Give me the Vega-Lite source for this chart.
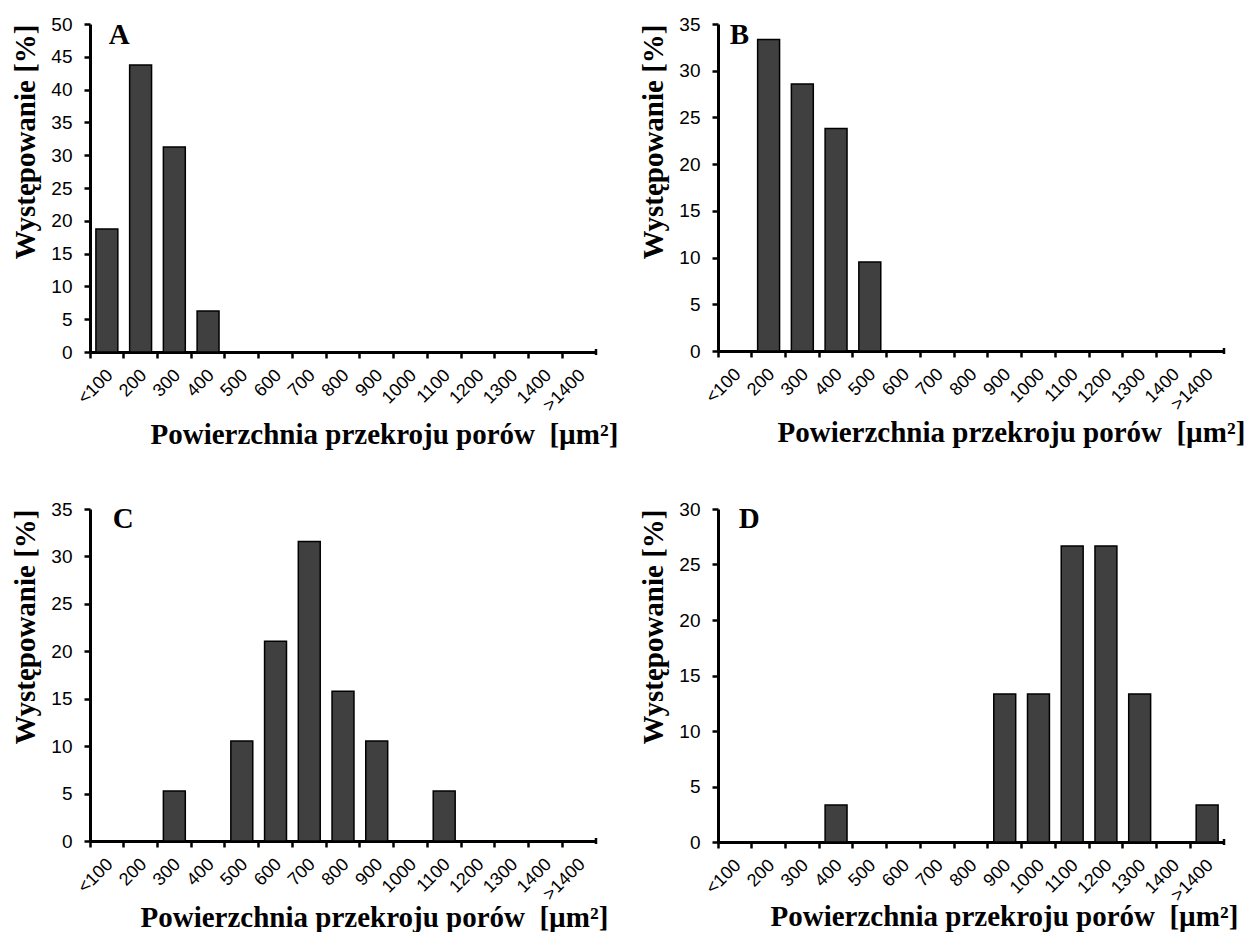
{
  "$schema": "https://vega.github.io/schema/vega-lite/v6.json",
  "background": "white",
  "padding": {"left": 11, "top": 15, "right": 0, "bottom": 0},
  "autosize": {"type": "pad"},
  "datasets": {
    "bars": [
      {"panel": "A", "bin": "<100", "pct": 18.75},
      {"panel": "A", "bin": "200", "pct": 43.75},
      {"panel": "A", "bin": "300", "pct": 31.25},
      {"panel": "A", "bin": "400", "pct": 6.25},
      {"panel": "B", "bin": "200", "pct": 33.33},
      {"panel": "B", "bin": "300", "pct": 28.57},
      {"panel": "B", "bin": "400", "pct": 23.81},
      {"panel": "B", "bin": "500", "pct": 9.52},
      {"panel": "C", "bin": "300", "pct": 5.26},
      {"panel": "C", "bin": "500", "pct": 10.53},
      {"panel": "C", "bin": "600", "pct": 21.05},
      {"panel": "C", "bin": "700", "pct": 31.58},
      {"panel": "C", "bin": "800", "pct": 15.79},
      {"panel": "C", "bin": "900", "pct": 10.53},
      {"panel": "C", "bin": "1100", "pct": 5.26},
      {"panel": "D", "bin": "400", "pct": 3.33},
      {"panel": "D", "bin": "900", "pct": 13.33},
      {"panel": "D", "bin": "1000", "pct": 13.33},
      {"panel": "D", "bin": "1100", "pct": 26.67},
      {"panel": "D", "bin": "1200", "pct": 26.67},
      {"panel": "D", "bin": "1300", "pct": 13.33},
      {"panel": "D", "bin": ">1400", "pct": 3.33}
    ]
  },
  "config": {
    "view": {"stroke": null},
    "axis": {
      "domainColor": "#000", "tickColor": "#000", "labelColor": "#000", "titleColor": "#000",
      "grid": false, "domainWidth": 3, "tickWidth": 2.5,
      "labelFont": "Liberation Sans", "titleFont": "Liberation Serif",
      "titleFontWeight": "bold", "titleFontSize": 29, "zindex": 1, "labelOverlap": false
    },
    "axisX": {
      "labelAngle": -45, "labelAlign": "right", "labelBaseline": "top",
      "labelFontSize": 18, "labelPadding": 8, "labelOffset": -3, "bandPosition": 0,
      "tickSize": 6,
      "titleAlign": "left", "titleBaseline": "alphabetic"
    },
    "axisY": {"labelFontSize": 19, "labelPadding": 12, "tickSize": 6, "titleAnchor": "end", "titlePadding": 10},
    "bar": {"fill": "#404040", "stroke": "#000", "strokeWidth": 1.5},
    "text": {"font": "Liberation Serif", "fontSize": 29, "fontWeight": "bold", "color": "#000", "align": "left", "baseline": "top"},
    "tick": {"color": "#000", "orient": "vertical", "size": 6, "thickness": 2.5, "yOffset": 3, "opacity": 1}
  },
  "columns": 2,
  "spacing": {"row": 51, "column": 21},
  "concat": [
    {
      "width": 506, "height": 328,
      "layer": [
        {
          "data": {"name": "bars"},
          "transform": [{"filter": "datum.panel === 'A'"}],
          "mark": {"type": "bar", "width": {"band": 0.65}},
          "encoding": {
            "x": {"field": "bin", "type": "nominal", "sort": null,
              "scale": {"domain": ["<100","200","300","400","500","600","700","800","900","1000","1100","1200","1300","1400",">1400"], "paddingInner": 0, "paddingOuter": 0},
              "axis": {"title": "Powierzchnia przekroju porów \u00a0[µm²]", "titleX": 60, "titleY": 91}},
            "y": {"field": "pct", "type": "quantitative",
              "scale": {"domain": [0, 50], "nice": false},
              "axis": {"title": "Występowanie [%]", "values": [0,5,10,15,20,25,30,35,40,45,50]}}
          }
        },
        {
          "data": {"values": [{"label": "A"}]},
          "mark": {"type": "text", "dx": 2, "dy": -3},
          "encoding": {
            "x": {"datum": "<100", "type": "nominal"},
            "y": {"datum": 50, "type": "quantitative", "axis": {"values": [0,5,10,15,20,25,30,35,40,45,50]}},
            "text": {"field": "label"}
          }
        },
        {
          "data": {"values": [{"label": "A"}]},
          "mark": {"type": "tick"},
          "encoding": {
            "x": {"datum": ">1400", "type": "nominal", "bandPosition": 1},
            "y": {"datum": 0, "type": "quantitative", "axis": {"values": [0,5,10,15,20,25,30,35,40,45,50]}}
          }
        }
      ]
    },
    {
      "width": 506, "height": 327,
      "layer": [
        {
          "data": {"name": "bars"},
          "transform": [{"filter": "datum.panel === 'B'"}],
          "mark": {"type": "bar", "width": {"band": 0.65}},
          "encoding": {
            "x": {"field": "bin", "type": "nominal", "sort": null,
              "scale": {"domain": ["<100","200","300","400","500","600","700","800","900","1000","1100","1200","1300","1400",">1400"], "paddingInner": 0, "paddingOuter": 0},
              "axis": {"title": "Powierzchnia przekroju porów \u00a0[µm²]", "titleX": 59, "titleY": 90}},
            "y": {"field": "pct", "type": "quantitative",
              "scale": {"domain": [0, 35], "nice": false},
              "axis": {"title": "Występowanie [%]", "values": [0,5,10,15,20,25,30,35]}}
          }
        },
        {
          "data": {"values": [{"label": "B"}]},
          "mark": {"type": "text", "dx": -5, "dy": -3},
          "encoding": {
            "x": {"datum": "<100", "type": "nominal"},
            "y": {"datum": 35, "type": "quantitative", "axis": {"values": [0,5,10,15,20,25,30,35]}},
            "text": {"field": "label"}
          }
        },
        {
          "data": {"values": [{"label": "B"}]},
          "mark": {"type": "tick"},
          "encoding": {
            "x": {"datum": ">1400", "type": "nominal", "bandPosition": 1},
            "y": {"datum": 0, "type": "quantitative", "axis": {"values": [0,5,10,15,20,25,30,35]}}
          }
        }
      ]
    },
    {
      "width": 506, "height": 332,
      "layer": [
        {
          "data": {"name": "bars"},
          "transform": [{"filter": "datum.panel === 'C'"}],
          "mark": {"type": "bar", "width": {"band": 0.65}},
          "encoding": {
            "x": {"field": "bin", "type": "nominal", "sort": null,
              "scale": {"domain": ["<100","200","300","400","500","600","700","800","900","1000","1100","1200","1300","1400",">1400"], "paddingInner": 0, "paddingOuter": 0},
              "axis": {"title": "Powierzchnia przekroju porów \u00a0[µm²]", "titleX": 50, "titleY": 85}},
            "y": {"field": "pct", "type": "quantitative",
              "scale": {"domain": [0, 35], "nice": false},
              "axis": {"title": "Występowanie [%]", "values": [0,5,10,15,20,25,30,35]}}
          }
        },
        {
          "data": {"values": [{"label": "C"}]},
          "mark": {"type": "text", "dx": 6, "dy": -4},
          "encoding": {
            "x": {"datum": "<100", "type": "nominal"},
            "y": {"datum": 35, "type": "quantitative", "axis": {"values": [0,5,10,15,20,25,30,35]}},
            "text": {"field": "label"}
          }
        },
        {
          "data": {"values": [{"label": "C"}]},
          "mark": {"type": "tick"},
          "encoding": {
            "x": {"datum": ">1400", "type": "nominal", "bandPosition": 1},
            "y": {"datum": 0, "type": "quantitative", "axis": {"values": [0,5,10,15,20,25,30,35]}}
          }
        }
      ]
    },
    {
      "width": 506, "height": 333,
      "layer": [
        {
          "data": {"name": "bars"},
          "transform": [{"filter": "datum.panel === 'D'"}],
          "mark": {"type": "bar", "width": {"band": 0.65}},
          "encoding": {
            "x": {"field": "bin", "type": "nominal", "sort": null,
              "scale": {"domain": ["<100","200","300","400","500","600","700","800","900","1000","1100","1200","1300","1400",">1400"], "paddingInner": 0, "paddingOuter": 0},
              "axis": {"title": "Powierzchnia przekroju porów \u00a0[µm²]", "titleX": 52, "titleY": 83}},
            "y": {"field": "pct", "type": "quantitative",
              "scale": {"domain": [0, 30], "nice": false},
              "axis": {"title": "Występowanie [%]", "values": [0,5,10,15,20,25,30]}}
          }
        },
        {
          "data": {"values": [{"label": "D"}]},
          "mark": {"type": "text", "dx": 4, "dy": -4},
          "encoding": {
            "x": {"datum": "<100", "type": "nominal"},
            "y": {"datum": 30, "type": "quantitative", "axis": {"values": [0,5,10,15,20,25,30]}},
            "text": {"field": "label"}
          }
        },
        {
          "data": {"values": [{"label": "D"}]},
          "mark": {"type": "tick"},
          "encoding": {
            "x": {"datum": ">1400", "type": "nominal", "bandPosition": 1},
            "y": {"datum": 0, "type": "quantitative", "axis": {"values": [0,5,10,15,20,25,30]}}
          }
        }
      ]
    }
  ]
}
